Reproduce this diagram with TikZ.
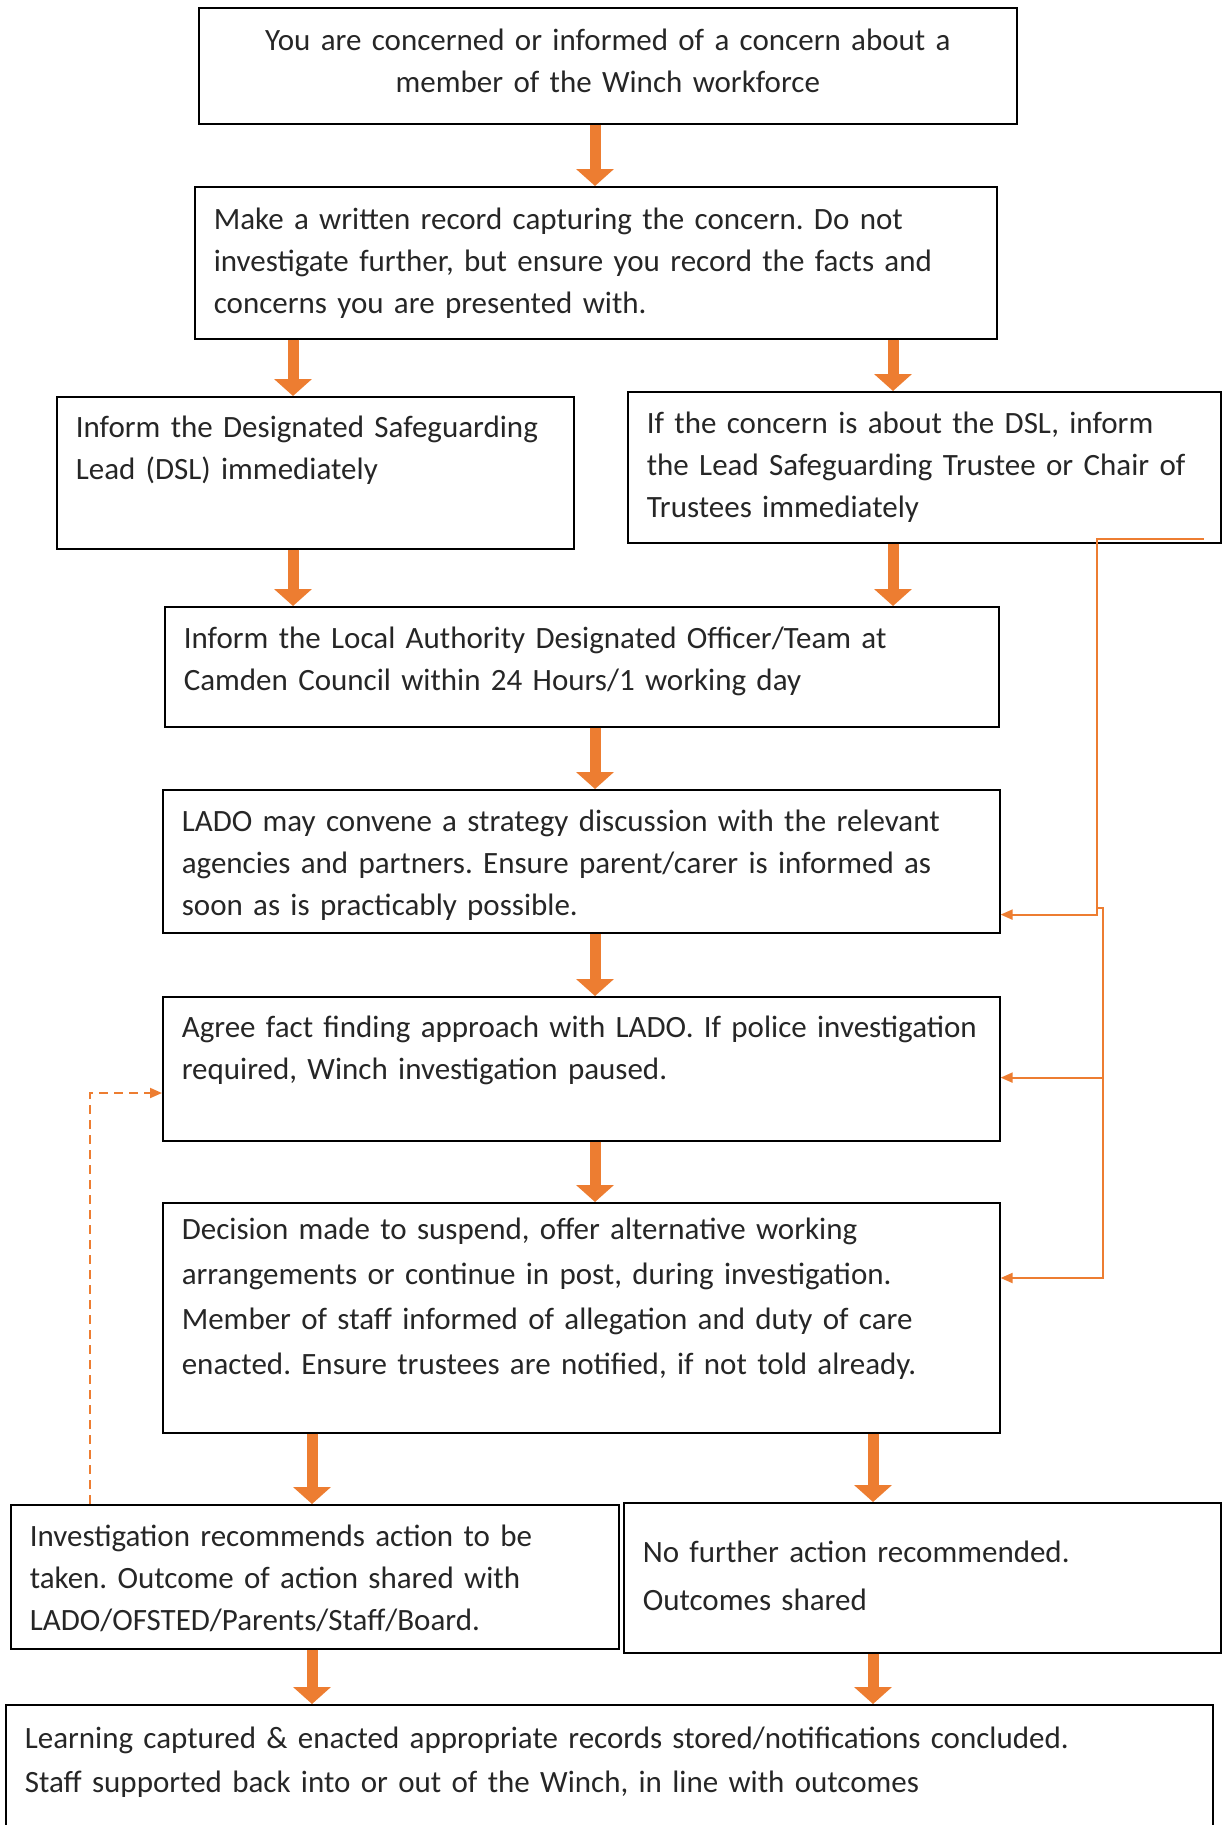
\documentclass[tikz,border=0pt]{standalone}
\usepackage{fontspec}
\setmainfont{Carlito}
\usepackage{xcolor}
\usetikzlibrary{arrows.meta,positioning}
\definecolor{floworange}{HTML}{ED7D31}
\definecolor{textgrey}{HTML}{262626}
\frenchspacing
\hyphenpenalty=10000

\begin{document}
\begin{tikzpicture}[
  x=1pt, y=-1pt,
  stepbox/.style={draw, line width=1.6pt, anchor=north west, align=left, inner xsep=19pt, inner ysep=0pt, text=textgrey, font=\fontsize{31}{42}\selectfont},
  flow/.style={-{Triangle[length=17pt,width=37pt]}, line width=11pt, draw=floworange},
  link/.style={-{Triangle[length=12pt,width=10pt]}, line width=2pt, draw=floworange},
  back/.style={link, dash pattern=on 9pt off 6pt}
]
\useasboundingbox (0,0) rectangle (1221,1825);

% boxes, top to bottom
\node[stepbox, align=center, text width=780pt, text height=43pt, text depth=73pt] (concern) at (198,7)
  {You are concerned or informed of a concern about a\\member of the Winch workforce};
\node[stepbox, text width=764pt, text height=43pt, text depth=109pt] (record) at (194,186)
  {Make a written record capturing the concern. Do not\\investigate further, but ensure you record the facts and\\concerns you are presented with.};
\node[stepbox, text width=479pt, text height=41pt, text depth=111pt] (dsl) at (56,396)
  {Inform the Designated Safeguarding\\Lead (DSL) immediately};
\node[stepbox, text width=555pt, text height=42pt, text depth=109pt] (trustee) at (627,391)
  {If the concern is about the DSL, inform\\the Lead Safeguarding Trustee or Chair of\\Trustees immediately};
\node[stepbox, text width=796pt, text height=42pt, text depth=78pt] (lado) at (164,606)
  {Inform the Local Authority Designated Officer/Team at\\Camden Council within 24 Hours/1 working day};
\node[stepbox, text width=799pt, text height=42pt, text depth=101pt] (strategy) at (162,789)
  {LADO may convene a strategy discussion with the relevant\\agencies and partners. Ensure parent/carer is informed as\\soon as is practicably possible.};
\node[stepbox, text width=799pt, text height=41pt, text depth=103pt] (factfind) at (162,996)
  {Agree fact finding approach with LADO. If police investigation\\required, Winch investigation paused.};
\node[stepbox, text width=799pt, text height=37pt, text depth=193pt, font=\fontsize{31}{45}\selectfont] (decision) at (162,1202)
  {Decision made to suspend, offer alternative working\\arrangements or continue in post, during investigation.\\Member of staff informed of allegation and duty of care\\enacted. Ensure trustees are notified, if not told already.};
\node[stepbox, text width=570pt, text height=42pt, text depth=102pt] (action) at (10,1504)
  {Investigation recommends action to be\\taken. Outcome of action shared with\\LADO/OFSTED/Parents/Staff/Board.};
\node[stepbox, text width=559pt, text height=60pt, text depth=90pt, font=\fontsize{31}{48}\selectfont] (nfa) at (623,1502)
  {No further action recommended.\\Outcomes shared};
\node[stepbox, text width=1169pt, text height=44pt, text depth=100pt, font=\fontsize{31}{44}\selectfont] (learning) at (5,1704)
  {Learning captured \& enacted appropriate records stored/notifications concluded.\\Staff supported back into or out of the Winch, in line with outcomes};

% lanes for the arrows
\coordinate (midx) at (595,0);
\coordinate (leftx) at (293,0);
\coordinate (rightx) at (893,0);
\coordinate (lowleftx) at (312,0);
\coordinate (lowrightx) at (873,0);
\coordinate (busA) at (1097,0);
\coordinate (busB) at (1103,0);
\coordinate (backx) at (90,0);
\coordinate (inS) at ([yshift=19pt]strategy.south east);
\coordinate (inF) at ([yshift=64pt]factfind.south east);
\coordinate (inD) at ([yshift=-76pt]decision.north east);
\coordinate (inB) at ([yshift=-97pt]factfind.north west);

\draw[flow] (concern.south -| midx) -- (record.north -| midx);
\draw[flow] (record.south -| leftx) -- (dsl.north -| leftx);
\draw[flow] (record.south -| rightx) -- (trustee.north -| rightx);
\draw[flow] (dsl.south -| leftx) -- (lado.north -| leftx);
\draw[flow] (trustee.south -| rightx) -- (lado.north -| rightx);
\draw[flow] (lado.south -| midx) -- (strategy.north -| midx);
\draw[flow] (strategy.south -| midx) -- (factfind.north -| midx);
\draw[flow] (factfind.south -| midx) -- (decision.north -| midx);
\draw[flow] (decision.south -| lowleftx) -- (action.north -| lowleftx);
\draw[flow] (decision.south -| lowrightx) -- (nfa.north -| lowrightx);
\draw[flow] (action.south -| lowleftx) -- (learning.north -| lowleftx);
\draw[flow] (nfa.south -| lowrightx) -- (learning.north -| lowrightx);

% trustee route back into the LADO steps
\draw[link] ([xshift=-18pt,yshift=5pt]trustee.south east) -| (busA |- inS) -- (inS);
\draw[link] (busA |- inS) ++(0,-7) -| (busB |- inD) -- (inD);
\draw[link] (busB |- inF) -- (inF);
\draw[back] (backx |- action.north) |- (inB);
\end{tikzpicture}
\end{document}
